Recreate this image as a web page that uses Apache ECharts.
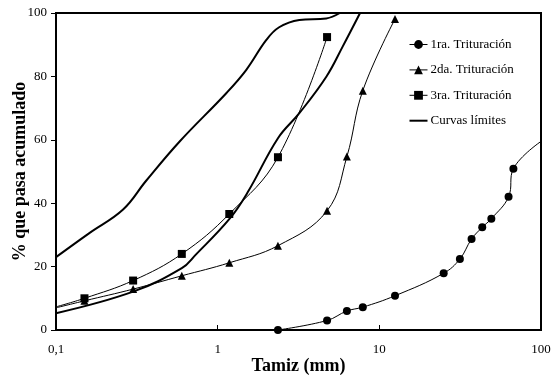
<!DOCTYPE html>
<html>
<head>
<meta charset="utf-8">
<script src="https://cdn.jsdelivr.net/npm/echarts@6/dist/echarts.min.js"></script>
<style>html,body{margin:0;padding:0;background:#fff}#c{width:554px;height:379px}</style>
</head>
<body>
<div id="c"></div>
<script>
// ---- data ----
const xTickLabels = { 0.1: '0,1', 1: '1', 10: '10', 100: '100' };
const yTicks = [0, 20, 40, 60, 80, 100];

const name1 = '1ra. Trituración';
const size1 = [2.36, 4.75, 6.3, 7.9, 12.5, 25, 31.5, 37.2, 43.3, 49.3, 63, 67.5, 100];
const pass1 = [0, 3, 6, 7.2, 10.8, 17.9, 22.4, 28.7, 32.4, 35.1, 42, 50.9, 59.5];
const mark1 = [1, 1, 1, 1, 1, 1, 1, 1, 1, 1, 1, 1, 0];

const name2 = '2da. Trituración';
const size2 = [0.1, 0.15, 0.3, 0.6, 1.18, 2.36, 4.75, 6.3, 7.9, 12.5];
const pass2 = [7.0, 9.2, 12.9, 17.1, 21.2, 26.6, 37.6, 54.7, 75.5, 98.1];
const mark2 = [0, 1, 1, 1, 1, 1, 1, 1, 1, 1];

const name3 = '3ra. Trituración';
const size3 = [0.1, 0.15, 0.3, 0.6, 1.18, 2.36, 4.75];
const pass3 = [7.3, 10.0, 15.6, 24.0, 36.6, 54.5, 92.4];
const mark3 = [0, 1, 1, 1, 1, 1, 1];

const nameLim = 'Curvas límites';
const sizeUpper = [0.1, 0.16, 0.26, 0.36, 0.58, 1.13, 1.5, 2.0, 2.4, 3.2, 4.7, 5.7];
const passUpper = [23.0, 30.5, 38.0, 47.0, 59.4, 74.7, 82.0, 91.5, 95.5, 97.8, 98.3, 100];
const sizeLower = [0.1, 0.3, 0.6, 0.73, 1.19, 1.54, 2.36, 3.2, 4.7, 5.93, 7.6];
const passLower = [5.3, 12.1, 19.5, 23.7, 35.2, 43.6, 60.5, 68.4, 79.9, 89.4, 100];

function pts(xs, ys, marks) {
  return xs.map((x, i) => {
    const d = { value: [x, ys[i]] };
    if (marks && !marks[i]) d.symbol = 'none';
    return d;
  });
}

const font = 'Liberation Serif, Times New Roman, serif';
const chart = echarts.init(document.getElementById('c'), null, { renderer: 'canvas' });

function dataSeries(name, xs, ys, marks, symbol, size) {
  return {
    name, type: 'line', data: pts(xs, ys, marks), smooth: 0.4,
    symbol, symbolSize: size, showSymbol: true,
    lineStyle: { color: '#000', width: 1 },
    itemStyle: { color: '#000', borderWidth: 0 },
    clip: true, z: 3
  };
}
function limitSeries(xs, ys) {
  return {
    name: nameLim, type: 'line', data: pts(xs, ys), smooth: 0.4,
    symbol: 'none', lineStyle: { color: '#000', width: 2 },
    itemStyle: { color: '#000' }, clip: true, z: 2
  };
}

chart.setOption({
  animation: false,
  backgroundColor: '#fff',
  grid: {
    left: 56, right: 13, top: 13, bottom: 49, show: true,
    borderColor: '#000', borderWidth: 2, containLabel: false, outerBoundsMode: 'none'
  },
  legend: {
    orient: 'vertical', left: 404, top: 33, itemGap: 12.4, itemWidth: 18, itemHeight: 11,
    data: [
      { name: name1, lineStyle: { width: 1 } },
      { name: name2, lineStyle: { width: 1 } },
      { name: name3, lineStyle: { width: 1 } },
      { name: nameLim, icon: 'path://M0,0 L18,0 L18,2 L0,2 Z', itemStyle: { color: '#000' } }
    ],
    textStyle: { fontFamily: font, fontSize: 13, color: '#000', padding: [0, 0, 0, -2] },
    selectedMode: false
  },
  xAxis: {
    type: 'log', logBase: 10, min: 0.1, max: 100,
    name: 'Tamiz (mm)', nameLocation: 'middle', nameGap: 27, nameMoveOverlap: false,
    nameTextStyle: { fontFamily: font, fontSize: 18, fontWeight: 'bold', color: '#000' },
    axisLine: { lineStyle: { color: '#000', width: 2 } },
    axisTick: { inside: true, length: 5, lineStyle: { color: '#000', width: 1 } },
    minorTick: { show: false },
    splitLine: { show: false },
    axisLabel: {
      fontFamily: font, fontSize: 13, color: '#000', margin: 13,
      formatter: v => xTickLabels[+(+v).toPrecision(3)] ?? ''
    }
  },
  yAxis: {
    type: 'value', min: 0, max: 100, interval: 20,
    name: '% que pasa acumulado', nameLocation: 'middle', nameGap: 27, nameMoveOverlap: false,
    nameTextStyle: { fontFamily: font, fontSize: 18, fontWeight: 'bold', color: '#000' },
    axisLine: { show: true, lineStyle: { color: '#000', width: 2 } },
    axisTick: { show: true, inside: false, length: 5, lineStyle: { color: '#000', width: 1 } },
    splitLine: { show: false },
    axisLabel: {
      fontFamily: font, fontSize: 13, color: '#000', margin: 9,
      formatter: v => yTicks.includes(v) ? String(v) : ''
    }
  },
  series: [
    dataSeries(name1, size1, pass1, mark1, 'circle', 8),
    dataSeries(name2, size2, pass2, mark2, 'triangle', 8),
    dataSeries(name3, size3, pass3, mark3, 'rect', 8),
    limitSeries(sizeUpper, passUpper),
    limitSeries(sizeLower, passLower)
  ]
});
</script>
</body>
</html>
